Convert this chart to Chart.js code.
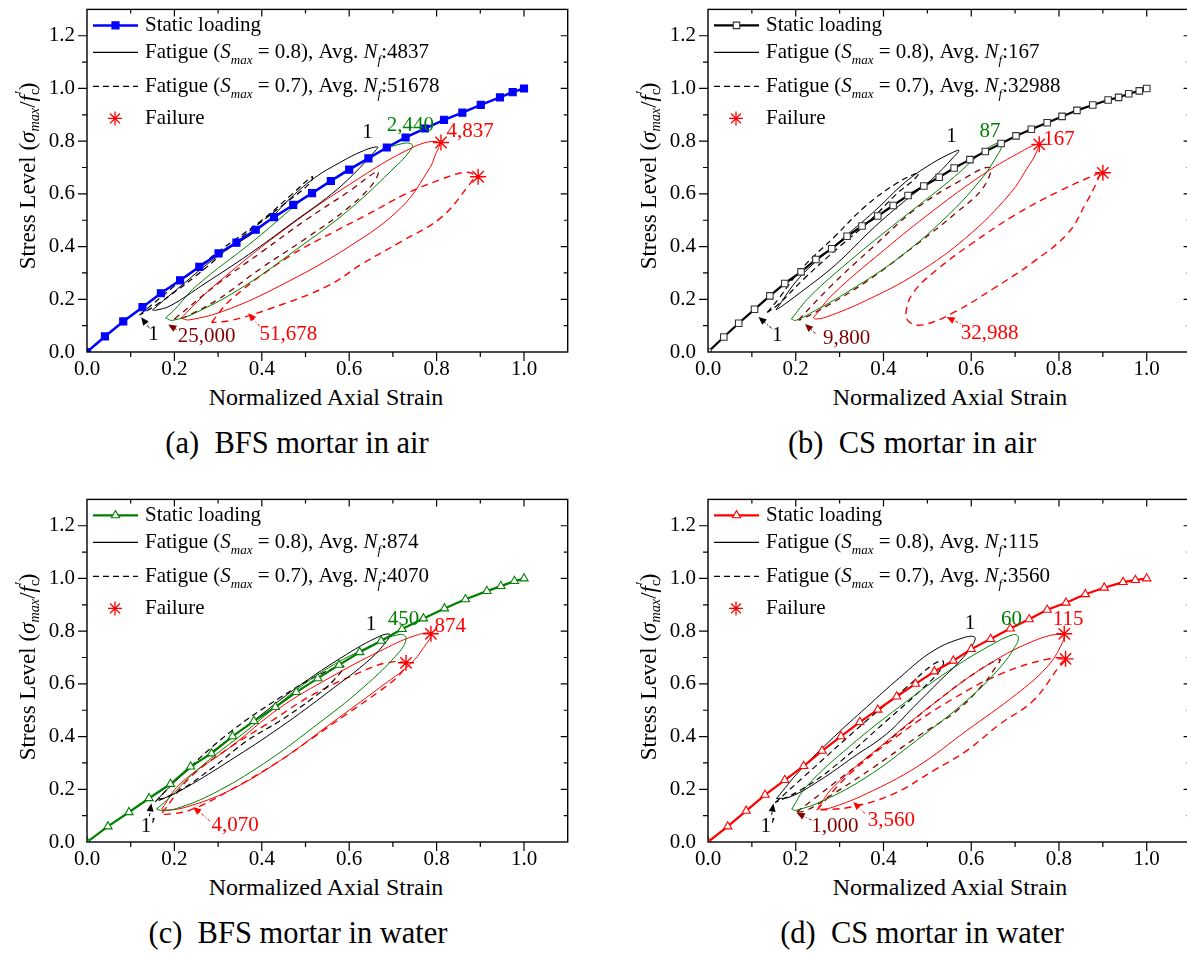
<!DOCTYPE html>
<html>
<head>
<meta charset="utf-8">
<script src="https://cdn.jsdelivr.net/npm/chart.js@4.4.1/dist/chart.umd.min.js"></script>
<style>
html, body { margin: 0; padding: 0; background: #fff; overflow: hidden; width: 1187px; height: 953px; }
body { position: relative; font-family: "Liberation Serif", "Times New Roman", serif; color: #000; }
canvas { position: absolute; }
.ytitle, .xtitle, .cap { position: absolute; white-space: nowrap; line-height: 1; }
.ytitle { font-size: 23px; transform: translate(-50%, -50%) rotate(-90deg); }
.xtitle { font-size: 24px; transform: translate(-50%, -50%); }
.cap { font-size: 30.5px; transform: translate(-50%, -50%); }
sub { font-size: 0.62em; vertical-align: -0.35em; line-height: 0; }
.pr { font-size: 0.7em; vertical-align: 0.55em; margin-left: -0.32em; line-height: 0; }
</style>
</head>
<body>
<canvas id="pa" width="600" height="380" style="left:0;top:0"></canvas>
<canvas id="pb" width="580" height="380" style="left:620px;top:0"></canvas>
<canvas id="pc" width="600" height="380" style="left:0;top:490px"></canvas>
<canvas id="pd" width="580" height="380" style="left:620px;top:490px"></canvas>

<div class="ytitle" style="left:27px;top:176px">Stress Level (<i>σ</i><sub><i>max</i></sub>/<i>f</i><sub>c</sub><span class="pr">′</span>)</div>
<div class="ytitle" style="left:648px;top:176px">Stress Level (<i>σ</i><sub><i>max</i></sub>/<i>f</i><sub>c</sub><span class="pr">′</span>)</div>
<div class="ytitle" style="left:27px;top:667px">Stress Level (<i>σ</i><sub><i>max</i></sub>/<i>f</i><sub>c</sub><span class="pr">′</span>)</div>
<div class="ytitle" style="left:648px;top:667px">Stress Level (<i>σ</i><sub><i>max</i></sub>/<i>f</i><sub>c</sub><span class="pr">′</span>)</div>

<div class="xtitle" style="left:326px;top:397px">Normalized Axial Strain</div>
<div class="xtitle" style="left:950px;top:397px">Normalized Axial Strain</div>
<div class="xtitle" style="left:326px;top:887px">Normalized Axial Strain</div>
<div class="xtitle" style="left:950px;top:887px">Normalized Axial Strain</div>

<div class="cap" style="left:297px;top:443px">(a)&nbsp; BFS mortar in air</div>
<div class="cap" style="left:912px;top:443px">(b)&nbsp; CS mortar in air</div>
<div class="cap" style="left:298px;top:933px">(c)&nbsp; BFS mortar in water</div>
<div class="cap" style="left:922px;top:933px">(d)&nbsp; CS mortar in water</div>

<script>
// ---- values: [normalized strain, stress level] ----
const aStatic = [[0,0],[0.041,0.059],[0.083,0.116],[0.127,0.17],[0.169,0.223],[0.213,0.272],[0.257,0.323],[0.301,0.374],[0.342,0.415],[0.386,0.464],[0.428,0.512],[0.472,0.558],[0.515,0.603],[0.558,0.649],[0.6,0.692],[0.644,0.735],[0.686,0.776],[0.729,0.814],[0.773,0.848],[0.817,0.881],[0.859,0.908],[0.901,0.938],[0.945,0.966],[0.974,0.986],[1.0,1.0]];
const aS8First = [[0.15,0.16],[0.2,0.23],[0.3,0.365],[0.4,0.475],[0.46,0.575],[0.52,0.66],[0.58,0.72],[0.63,0.762],[0.665,0.778],[0.655,0.755],[0.61,0.675],[0.56,0.6],[0.47,0.49],[0.37,0.37],[0.27,0.26],[0.19,0.175],[0.155,0.158],[0.15,0.16]];
const aS8Mid = [[0.18,0.13],[0.2,0.16],[0.25,0.25],[0.38,0.42],[0.52,0.61],[0.67,0.76],[0.725,0.792],[0.745,0.785],[0.735,0.755],[0.71,0.71],[0.6,0.54],[0.48,0.39],[0.36,0.25],[0.25,0.15],[0.195,0.12],[0.18,0.13]];
const aS8Fail = [[0.215,0.128],[0.24,0.17],[0.29,0.25],[0.44,0.45],[0.6,0.635],[0.75,0.78],[0.805,0.795],[0.795,0.74],[0.785,0.7],[0.72,0.55],[0.6,0.4],[0.44,0.25],[0.32,0.16],[0.235,0.122],[0.215,0.128]];
const aS7First = [[0.12,0.14],[0.2,0.25],[0.3,0.38],[0.4,0.5],[0.47,0.6],[0.515,0.665],[0.51,0.64],[0.45,0.56],[0.35,0.43],[0.25,0.29],[0.16,0.18],[0.12,0.14]];
const aS7Mid = [[0.2,0.125],[0.3,0.26],[0.4,0.38],[0.5,0.5],[0.6,0.61],[0.665,0.685],[0.655,0.64],[0.6,0.55],[0.5,0.43],[0.4,0.32],[0.3,0.2],[0.22,0.13],[0.2,0.125]];
const aS7Fail = [[0.285,0.112],[0.33,0.2],[0.46,0.36],[0.57,0.46],[0.64,0.52],[0.73,0.6],[0.81,0.655],[0.865,0.682],[0.885,0.67],[0.87,0.625],[0.81,0.51],[0.72,0.42],[0.63,0.335],[0.55,0.25],[0.42,0.165],[0.33,0.12],[0.285,0.112]];
const aFailure = [[0.81,0.795],[0.895,0.665]];

const bStatic = [[0,0],[0.036,0.057],[0.07,0.109],[0.106,0.162],[0.141,0.213],[0.175,0.26],[0.212,0.304],[0.246,0.351],[0.282,0.392],[0.317,0.439],[0.351,0.478],[0.387,0.516],[0.422,0.556],[0.456,0.594],[0.492,0.63],[0.527,0.663],[0.561,0.698],[0.597,0.73],[0.632,0.761],[0.668,0.791],[0.702,0.82],[0.737,0.845],[0.773,0.87],[0.807,0.894],[0.841,0.917],[0.877,0.937],[0.912,0.956],[0.936,0.966],[0.959,0.98],[0.983,0.991],[1.0,1.0]];
const bS8First = [[0.155,0.16],[0.21,0.285],[0.3,0.42],[0.38,0.535],[0.45,0.645],[0.51,0.715],[0.555,0.755],[0.572,0.765],[0.56,0.74],[0.51,0.655],[0.45,0.575],[0.38,0.475],[0.29,0.33],[0.21,0.225],[0.165,0.17],[0.155,0.16]];
const bS8Mid = [[0.19,0.125],[0.232,0.21],[0.324,0.347],[0.437,0.5],[0.551,0.65],[0.627,0.76],[0.66,0.793],[0.67,0.785],[0.657,0.74],[0.627,0.665],[0.551,0.525],[0.437,0.36],[0.324,0.234],[0.232,0.146],[0.2,0.12],[0.19,0.125]];
const bS8Fail = [[0.24,0.13],[0.286,0.221],[0.4,0.385],[0.513,0.536],[0.627,0.674],[0.703,0.75],[0.752,0.787],[0.745,0.745],[0.733,0.712],[0.688,0.6],[0.589,0.435],[0.475,0.297],[0.361,0.196],[0.27,0.133],[0.245,0.125],[0.24,0.13]];
const bS7First = [[0.135,0.15],[0.16,0.2],[0.21,0.31],[0.29,0.44],[0.36,0.555],[0.43,0.64],[0.48,0.68],[0.47,0.655],[0.43,0.6],[0.37,0.5],[0.3,0.4],[0.22,0.28],[0.16,0.18],[0.135,0.15]];
const bS7Mid = [[0.206,0.121],[0.28,0.25],[0.377,0.4],[0.475,0.545],[0.574,0.649],[0.642,0.7],[0.627,0.623],[0.567,0.53],[0.475,0.408],[0.361,0.267],[0.27,0.174],[0.215,0.125],[0.206,0.121]];
const bS7Fail = [[0.895,0.682],[0.8,0.61],[0.7,0.52],[0.6,0.41],[0.52,0.31],[0.47,0.23],[0.452,0.16],[0.458,0.115],[0.49,0.103],[0.56,0.15],[0.65,0.24],[0.74,0.34],[0.82,0.45],[0.86,0.56],[0.885,0.64],[0.895,0.682]];
const bFailure = [[0.755,0.788],[0.9,0.68]];

const cStatic = [[0,0],[0.048,0.059],[0.096,0.113],[0.142,0.166],[0.191,0.22],[0.237,0.286],[0.285,0.336],[0.333,0.401],[0.382,0.459],[0.431,0.512],[0.479,0.569],[0.528,0.621],[0.577,0.672],[0.624,0.72],[0.673,0.763],[0.721,0.808],[0.77,0.848],[0.818,0.886],[0.866,0.921],[0.915,0.952],[0.947,0.971],[0.978,0.99],[1.0,1.0]];
const cS8First = [[0.163,0.165],[0.213,0.247],[0.3,0.36],[0.381,0.46],[0.48,0.586],[0.594,0.712],[0.67,0.781],[0.693,0.788],[0.686,0.763],[0.648,0.694],[0.556,0.574],[0.442,0.435],[0.327,0.309],[0.228,0.208],[0.175,0.165],[0.163,0.165]];
const cS8Mid = [[0.159,0.125],[0.182,0.158],[0.251,0.272],[0.366,0.423],[0.518,0.624],[0.655,0.75],[0.716,0.788],[0.73,0.775],[0.716,0.724],[0.632,0.586],[0.518,0.435],[0.404,0.297],[0.289,0.184],[0.205,0.127],[0.17,0.12],[0.159,0.125]];
const cS8Fail = [[0.171,0.125],[0.213,0.221],[0.327,0.359],[0.442,0.51],[0.556,0.624],[0.67,0.724],[0.747,0.781],[0.787,0.79],[0.77,0.737],[0.739,0.674],[0.67,0.586],[0.556,0.447],[0.442,0.309],[0.327,0.196],[0.228,0.133],[0.18,0.12],[0.171,0.125]];
const cS7First = [[0.156,0.152],[0.22,0.26],[0.327,0.416],[0.442,0.548],[0.533,0.636],[0.587,0.668],[0.563,0.611],[0.518,0.548],[0.442,0.46],[0.366,0.384],[0.289,0.284],[0.213,0.196],[0.156,0.152]];
const cS7Fail = [[0.172,0.11],[0.236,0.245],[0.327,0.359],[0.411,0.447],[0.518,0.56],[0.632,0.649],[0.686,0.68],[0.728,0.678],[0.716,0.636],[0.67,0.573],[0.594,0.485],[0.518,0.397],[0.442,0.309],[0.327,0.196],[0.236,0.121],[0.18,0.105],[0.172,0.11]];
const cFailure = [[0.787,0.79],[0.73,0.68]];

const dStatic = [[0,0],[0.045,0.059],[0.087,0.118],[0.13,0.179],[0.175,0.235],[0.218,0.288],[0.26,0.346],[0.303,0.401],[0.346,0.455],[0.387,0.502],[0.43,0.552],[0.473,0.6],[0.516,0.647],[0.559,0.688],[0.6,0.732],[0.644,0.77],[0.689,0.81],[0.732,0.845],[0.773,0.881],[0.816,0.908],[0.86,0.94],[0.903,0.965],[0.946,0.986],[0.974,0.994],[1.0,1.0]];
const dS8First = [[0.156,0.165],[0.21,0.272],[0.286,0.397],[0.361,0.511],[0.437,0.624],[0.513,0.725],[0.582,0.775],[0.608,0.777],[0.601,0.743],[0.574,0.686],[0.528,0.611],[0.468,0.511],[0.407,0.41],[0.331,0.322],[0.255,0.234],[0.187,0.171],[0.156,0.165]];
const dS8Mid = [[0.191,0.125],[0.225,0.212],[0.323,0.363],[0.437,0.514],[0.551,0.652],[0.65,0.752],[0.696,0.787],[0.707,0.78],[0.703,0.75],[0.665,0.661],[0.589,0.536],[0.475,0.385],[0.361,0.246],[0.263,0.157],[0.2,0.12],[0.191,0.125]];
const dS8Fail = [[0.251,0.13],[0.286,0.209],[0.4,0.372],[0.513,0.523],[0.627,0.661],[0.741,0.762],[0.809,0.786],[0.802,0.737],[0.771,0.661],[0.703,0.561],[0.589,0.422],[0.475,0.284],[0.361,0.183],[0.286,0.133],[0.258,0.124],[0.251,0.13]];
const dS7First = [[0.153,0.149],[0.22,0.25],[0.361,0.46],[0.452,0.586],[0.513,0.674],[0.536,0.686],[0.528,0.649],[0.483,0.573],[0.407,0.46],[0.286,0.284],[0.21,0.196],[0.153,0.149]];
const dS7Mid = [[0.202,0.113],[0.286,0.221],[0.4,0.37],[0.513,0.523],[0.604,0.636],[0.665,0.693],[0.65,0.649],[0.627,0.598],[0.567,0.498],[0.475,0.397],[0.377,0.283],[0.286,0.183],[0.225,0.12],[0.202,0.113]];
const dS7Fail = [[0.248,0.121],[0.323,0.258],[0.437,0.409],[0.551,0.536],[0.665,0.636],[0.771,0.693],[0.815,0.695],[0.798,0.66],[0.741,0.536],[0.665,0.447],[0.589,0.346],[0.513,0.27],[0.422,0.182],[0.323,0.132],[0.248,0.121]];
const dFailure = [[0.812,0.79],[0.815,0.695]];

// average cycles to failure shown in each legend
const avgNf08 = ['4837', '167', '874', '115'];
const avgNf07 = ['51678', '32988', '4070', '3560'];

// cycle labels: [x, y, text]
const aLabels = [[0.642,0.833,'1'],[0.74,0.858,'2,440'],[0.877,0.838,'4,837'],[0.152,0.065,'1'],[0.274,0.059,'25,000'],[0.461,0.065,'51,678']];
const bLabels = [[0.555,0.819,'1'],[0.643,0.838,'87'],[0.8,0.806,'167'],[0.158,0.064,'1'],[0.316,0.052,'9,800'],[0.642,0.07,'32,988']];
const cLabels = [[0.65,0.825,'1'],[0.724,0.844,'450'],[0.831,0.819,'874'],[0.14,0.058,'1′'],[0.339,0.064,'4,070']];
const dLabels = [[0.597,0.831,'1'],[0.692,0.844,'60'],[0.821,0.844,'115'],[0.137,0.058,'1′'],[0.289,0.058,'1,000'],[0.418,0.083,'3,560']];

const BLACK = '#000000', GREEN = '#008000', RED = '#ff0000', MAROON = '#800000', BLUE = '#0000ff';
const SERIF = '"Liberation Serif", "Times New Roman", serif';
Chart.defaults.font.family = SERIF;
Chart.defaults.color = BLACK;

const pts = arr => arr.map(([x, y]) => ({ x, y }));

function drawRuns(ctx, x, y, runs, size, color) {
  let cx = x;
  ctx.fillStyle = color;
  ctx.textBaseline = 'middle';
  ctx.textAlign = 'left';
  for (const r of runs) {
    const s = r.sub ? size * 0.62 : size;
    ctx.font = (r.it ? 'italic ' : '') + s + 'px ' + SERIF;
    ctx.fillText(r.t, cx, y + (r.sub ? size * 0.38 : 0));
    cx += ctx.measureText(r.t).width;
  }
}

function drawArrow(ctx, x1, y1, x2, y2, color) {
  ctx.save();
  ctx.strokeStyle = color;
  ctx.fillStyle = color;
  ctx.lineWidth = 1;
  ctx.setLineDash([3, 2, 1, 2]);
  const ang = Math.atan2(y2 - y1, x2 - x1);
  ctx.beginPath();
  ctx.moveTo(x1, y1);
  ctx.lineTo(x2 - 5 * Math.cos(ang), y2 - 5 * Math.sin(ang));
  ctx.stroke();
  ctx.setLineDash([]);
  ctx.beginPath();
  ctx.moveTo(x2, y2);
  ctx.lineTo(x2 - 8 * Math.cos(ang) + 3.5 * Math.sin(ang), y2 - 8 * Math.sin(ang) - 3.5 * Math.cos(ang));
  ctx.lineTo(x2 - 8 * Math.cos(ang) - 3.5 * Math.sin(ang), y2 - 8 * Math.sin(ang) + 3.5 * Math.cos(ang));
  ctx.closePath();
  ctx.fill();
  ctx.restore();
}

function makePanel(id, p) {
  const loops = [
    { d: p.s8First, c: BLACK, w: 1, dash: [] },
    { d: p.s8Mid, c: GREEN, w: 1, dash: [] },
    { d: p.s8Fail, c: RED, w: 1, dash: [] },
    { d: p.s7First, c: BLACK, w: 1.2, dash: [6, 4] },
    { d: p.s7Mid, c: MAROON, w: 1.3, dash: [6, 5] },
    { d: p.s7Fail, c: RED, w: 1.4, dash: [7, 5] }
  ].filter(l => l.d);

  const datasets = [
    { data: pts(p.fail), showLine: false, pointStyle: 'star', pointRadius: 8, pointBorderColor: RED, pointBorderWidth: 1.4, order: 0 },
    { data: pts(p.stat), borderColor: p.color, borderWidth: p.lw, tension: 0, pointStyle: p.marker, pointRadius: p.mr,
      pointBackgroundColor: p.fill, pointBorderColor: p.mborder, pointBorderWidth: 1.1, order: 1 }
  ];
  loops.forEach((l, i) => datasets.push({ data: pts(l.d), borderColor: l.c, borderWidth: l.w, borderDash: l.dash,
    pointRadius: 0, tension: 0.4, order: 2 + i }));

  const extras = {
    id: 'extras',
    afterDatasetsDraw(chart) {
      const { ctx, chartArea: a, scales: { x, y } } = chart;
      ctx.save();
      // frame with ticks: outward on left/bottom, inward on top/right
      ctx.strokeStyle = BLACK;
      ctx.lineWidth = 1.4;
      ctx.strokeRect(a.left, a.top, a.right - a.left, a.bottom - a.top);
      ctx.lineWidth = 1.2;
      ctx.beginPath();
      for (let i = 1; i <= 10; i++) {
        const px = x.getPixelForValue(i / 10), major = i % 2 === 0;
        ctx.moveTo(px, a.bottom); ctx.lineTo(px, a.bottom + (major ? 9 : 5));
        ctx.moveTo(px, a.top); ctx.lineTo(px, a.top + (major ? 7 : 4));
      }
      for (let i = 1; i <= 12; i++) {
        const py = y.getPixelForValue(i / 10), major = i % 2 === 0;
        ctx.moveTo(a.left, py); ctx.lineTo(a.left - (major ? 9 : 5), py);
        ctx.moveTo(a.right, py); ctx.lineTo(a.right - (major ? 7 : 4), py);
      }
      ctx.stroke();

      // legend
      const rows = [16, 43, 77, 109].map(d => a.top + d);
      const lx0 = a.left + 6, lx1 = a.left + 51, tx = a.left + 58;
      ctx.lineWidth = p.lw;
      ctx.strokeStyle = p.color;
      ctx.beginPath(); ctx.moveTo(lx0, rows[0]); ctx.lineTo(lx1, rows[0]); ctx.stroke();
      ctx.fillStyle = p.fill; ctx.strokeStyle = p.mborder; ctx.lineWidth = 1.1;
      Chart.helpers.drawPoint(ctx, { pointStyle: p.marker, radius: p.mr, borderWidth: 1.1, rotation: 0 }, (lx0 + lx1) / 2, rows[0]);
      ctx.strokeStyle = BLACK; ctx.lineWidth = 1.2;
      ctx.beginPath(); ctx.moveTo(lx0, rows[1]); ctx.lineTo(lx1, rows[1]); ctx.stroke();
      ctx.setLineDash([6, 4]);
      ctx.beginPath(); ctx.moveTo(lx0, rows[2]); ctx.lineTo(lx1, rows[2]); ctx.stroke();
      ctx.setLineDash([]);
      ctx.strokeStyle = RED; ctx.lineWidth = 1.3;
      Chart.helpers.drawPoint(ctx, { pointStyle: 'star', radius: 7, borderWidth: 1.3, rotation: 0 }, a.left + 28, rows[3]);
      const fs = 21;
      drawRuns(ctx, tx, rows[0], [{ t: 'Static loading' }], fs, BLACK);
      drawRuns(ctx, tx, rows[1], [{ t: 'Fatigue (' }, { t: 'S', it: 1 }, { t: 'max', it: 1, sub: 1 }, { t: ' = 0.8), Avg. ' },
        { t: 'N', it: 1 }, { t: 'f', it: 1, sub: 1 }, { t: ':' + p.nf8 }], fs, BLACK);
      drawRuns(ctx, tx, rows[2], [{ t: 'Fatigue (' }, { t: 'S', it: 1 }, { t: 'max', it: 1, sub: 1 }, { t: ' = 0.7), Avg. ' },
        { t: 'N', it: 1 }, { t: 'f', it: 1, sub: 1 }, { t: ':' + p.nf7 }], fs, BLACK);
      drawRuns(ctx, tx, rows[3], [{ t: 'Failure' }], fs, BLACK);

      // cycle labels
      ctx.textAlign = 'center';
      ctx.textBaseline = 'middle';
      ctx.font = '21px ' + SERIF;
      p.labels.forEach(([lx, ly, t], i) => {
        ctx.fillStyle = p.labelColors[i];
        ctx.fillText(t, x.getPixelForValue(lx), y.getPixelForValue(ly));
      });
      p.arrows.forEach(([x1, y1, x2, y2, c]) => drawArrow(ctx, x.getPixelForValue(x1), y.getPixelForValue(y1),
        x.getPixelForValue(x2), y.getPixelForValue(y2), c));
      ctx.restore();
    }
  };

  new Chart(document.getElementById(id), {
    type: 'line',
    data: { datasets },
    options: {
      responsive: false,
      animation: false,
      events: [],
      layout: { padding: { left: p.padL, right: p.padR, top: 7.5, bottom: 0 } },
      plugins: { legend: { display: false }, tooltip: { enabled: false } },
      scales: {
        x: {
          type: 'linear', min: 0, max: 1.1,
          grid: { display: false, drawTicks: false },
          border: { display: false },
          ticks: { stepSize: 0.2, includeBounds: false, padding: 5, font: { size: 21 }, color: BLACK, callback: v => v.toFixed(1) },
          afterFit: s => { s.height = 28; s.paddingLeft = 0; s.paddingRight = 0; }
        },
        y: {
          type: 'linear', min: 0, max: 1.3,
          grid: { display: false, drawTicks: false },
          border: { display: false },
          ticks: { stepSize: 0.2, includeBounds: false, padding: 12, font: { size: 21 }, color: BLACK, callback: v => v.toFixed(1) },
          afterFit: s => { s.width = 50; s.paddingTop = 0; s.paddingBottom = 0; }
        }
      }
    },
    plugins: [extras]
  });
}

makePanel('pa', {
  padL: 37, padR: 32.3, stat: aStatic, color: BLUE, lw: 2.5, marker: 'rect', mr: 5, fill: BLUE, mborder: BLUE,
  s8First: aS8First, s8Mid: aS8Mid, s8Fail: aS8Fail, s7First: aS7First, s7Mid: aS7Mid, s7Fail: aS7Fail, fail: aFailure,
  nf8: avgNf08[0], nf7: avgNf07[0], labels: aLabels, labelColors: [BLACK, GREEN, RED, BLACK, MAROON, RED],
  arrows: [[0.142,0.092,0.124,0.132,BLACK],[0.205,0.085,0.186,0.104,MAROON],[0.395,0.098,0.369,0.147,RED]]
});
makePanel('pb', {
  padL: 38, padR: 9, stat: bStatic, color: BLACK, lw: 2.2, marker: 'rect', mr: 4.6, fill: '#ffffff', mborder: '#333333',
  s8First: bS8First, s8Mid: bS8Mid, s8Fail: bS8Fail, s7First: bS7First, s7Mid: bS7Mid, s7Fail: bS7Fail, fail: bFailure,
  nf8: avgNf08[1], nf7: avgNf07[1], labels: bLabels, labelColors: [BLACK, GREEN, RED, BLACK, MAROON, RED],
  arrows: [[0.145,0.09,0.115,0.133,BLACK],[0.245,0.07,0.221,0.106,MAROON],[0.586,0.098,0.544,0.133,RED]]
});
makePanel('pc', {
  padL: 37, padR: 32.3, stat: cStatic, color: GREEN, lw: 2.2, marker: 'triangle', mr: 4.8, fill: '#ffffff', mborder: GREEN,
  s8First: cS8First, s8Mid: cS8Mid, s8Fail: cS8Fail, s7First: cS7First, s7Fail: cS7Fail, fail: cFailure,
  nf8: avgNf08[2], nf7: avgNf07[2], labels: cLabels, labelColors: [BLACK, GREEN, RED, BLACK, RED],
  arrows: [[0.143,0.098,0.147,0.147,BLACK],[0.281,0.08,0.243,0.133,RED]]
});
makePanel('pd', {
  padL: 38, padR: 9, stat: dStatic, color: RED, lw: 2.2, marker: 'triangle', mr: 4.8, fill: '#ffffff', mborder: RED,
  s8First: dS8First, s8Mid: dS8Mid, s8Fail: dS8Fail, s7First: dS7First, s7Mid: dS7Mid, s7Fail: dS7Fail, fail: dFailure,
  nf8: avgNf08[3], nf7: avgNf07[3], labels: dLabels, labelColors: [BLACK, GREEN, RED, BLACK, MAROON, RED],
  arrows: [[0.145,0.103,0.149,0.146,BLACK],[0.236,0.083,0.202,0.111,MAROON],[0.358,0.108,0.331,0.152,RED]]
});
</script>
</body>
</html>
